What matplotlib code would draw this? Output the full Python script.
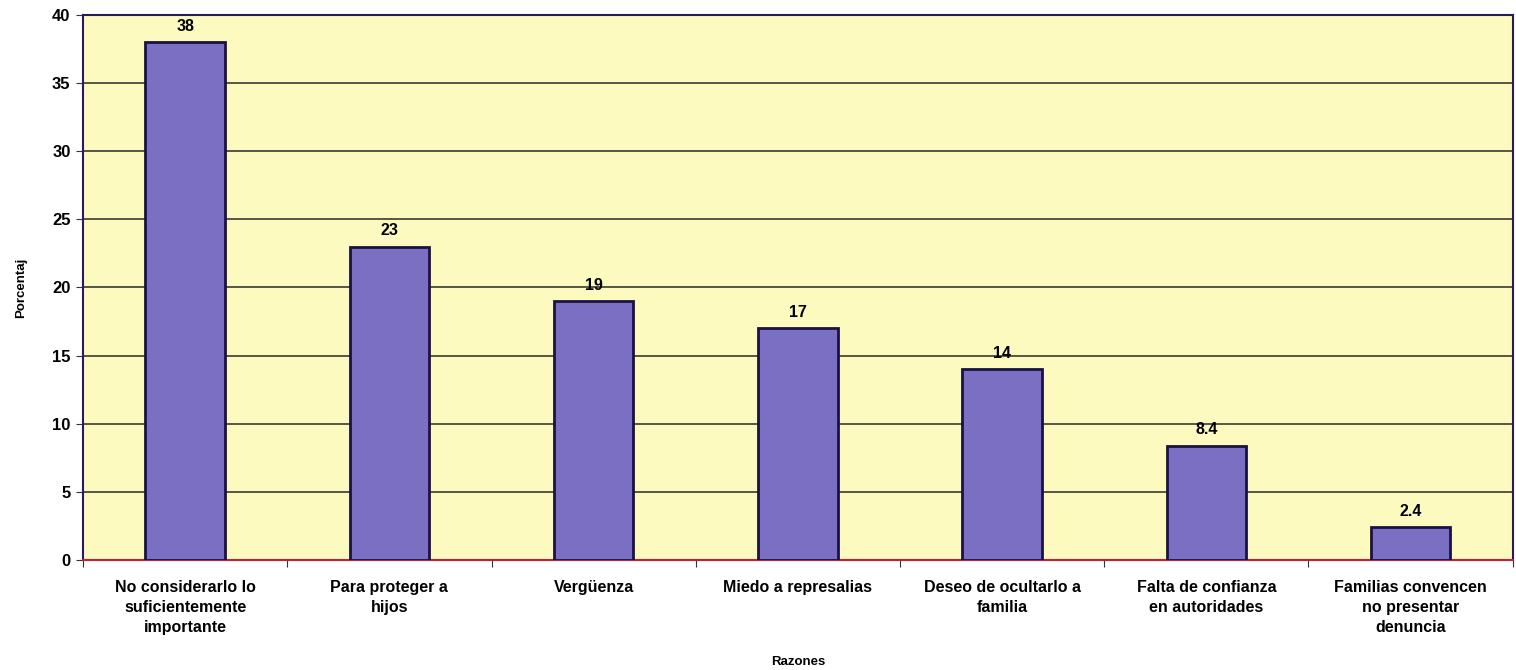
import matplotlib
matplotlib.use("Agg")
import matplotlib.pyplot as plt

categories = ["No considerarlo lo\nsuficientemente\nimportante", "Para proteger a\nhijos", "Vergüenza",
              "Miedo a represalias", "Deseo de ocultarlo a\nfamilia", "Falta de confianza\nen autoridades",
              "Familias convencen\nno presentar\ndenuncia"]
values = [38, 23, 19, 17, 14, 8.4, 2.4]
value_labels = ["38", "23", "19", "17", "14", "8.4", "2.4"]
yticks = [0, 5, 10, 15, 20, 25, 30, 35, 40]

plt.rcParams['font.family'] = ['Liberation Sans', 'DejaVu Sans']
plt.rcParams['font.weight'] = 'bold'

fig = plt.figure(figsize=(15.16, 6.7), dpi=100)
ax = fig.add_axes([0.0548, 0.164, 0.943, 0.814])
ax.set_facecolor('#FDFAC0')

x = list(range(len(categories)))
ax.bar(x, values, width=0.39, color='#7A6FC2', edgecolor='#1A1240', linewidth=2, zorder=3)
for xi, v, lab in zip(x, values, value_labels):
    ax.text(xi, v + 0.6, lab, ha='center', va='bottom', fontsize=11.5, fontweight='bold', zorder=4)

ax.set_xlim(-0.5, len(categories) - 0.5)
ax.set_ylim(0, 40)
ax.set_yticks(yticks)
ax.set_yticklabels([str(t) for t in yticks], fontsize=12, fontweight='bold')
ax.yaxis.grid(True, color='#3A3A30', linewidth=1.2, zorder=1)
ax.set_axisbelow(True)

ax.set_xticks([i + 0.5 for i in range(-1, len(categories))], minor=False)
ax.set_xticklabels([])
ax.set_xticks(x, minor=True)
ax.set_xticklabels(categories, minor=True, fontsize=11.5, fontweight='bold', linespacing=1.45)
ax.tick_params(axis='x', which='minor', length=0, pad=14)
ax.tick_params(axis='x', which='major', length=5, color='#333344')
ax.tick_params(axis='y', length=5, color='#333344', pad=4)

for side in ['left', 'top', 'right']:
    ax.spines[side].set_color('#2A1A5A')
    ax.spines[side].set_linewidth(1.5)
ax.spines['bottom'].set_color('#C0203A')
ax.spines['bottom'].set_linewidth(1.5)

ax.set_ylabel('Porcentaj', fontsize=9.5, fontweight='bold', labelpad=18)
ax.set_xlabel('Razones', fontsize=9.5, fontweight='bold', labelpad=15)

fig.savefig('out.png', dpi=100, facecolor='white')
